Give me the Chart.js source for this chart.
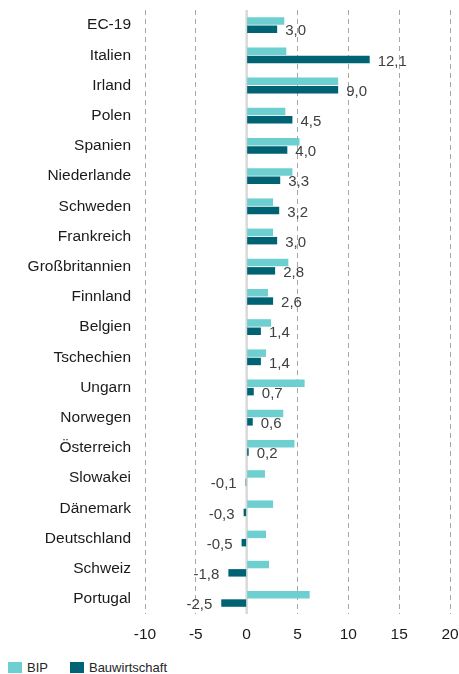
<!DOCTYPE html>
<html>
<head>
<meta charset="utf-8">
<script src="https://cdn.jsdelivr.net/npm/chart.js@4"></script>
<style>
  body { margin: 0; background: #fff; font-family: "Liberation Sans", Arial, sans-serif; }
  #wrap { position: relative; width: 459px; height: 674px; }
  #legend { position: absolute; left: 8px; top: 657px; height: 20px; display: flex; align-items: center; font-size: 13px; color: #262626; }
  #legend span.box { display: inline-block; width: 14px; height: 11px; margin-right: 5px; }
  #legend span.item { display: flex; align-items: center; margin-right: 22px; }
</style>
</head>
<body>
<div id="wrap">
  <canvas id="chart" width="459" height="650"></canvas>
  <div id="legend"></div>
</div>
<script>
const countries = [
  "EC-19", "Italien", "Irland", "Polen", "Spanien", "Niederlande", "Schweden",
  "Frankreich", "Großbritannien", "Finnland", "Belgien", "Tschechien", "Ungarn",
  "Norwegen", "Österreich", "Slowakei", "Dänemark", "Deutschland", "Schweiz", "Portugal"
];
const bip = [3.7, 3.9, 9.0, 3.8, 5.2, 4.5, 2.6, 2.6, 4.1, 2.1, 2.4, 1.9, 5.7, 3.6, 4.7, 1.8, 2.6, 1.9, 2.2, 6.2];
const bau = [3.0, 12.1, 9.0, 4.5, 4.0, 3.3, 3.2, 3.0, 2.8, 2.6, 1.4, 1.4, 0.7, 0.6, 0.2, -0.1, -0.3, -0.5, -1.8, -2.5];
const xTicks = [-10, -5, 0, 5, 10, 15, 20];

const FONT = '"Liberation Sans", Arial, sans-serif';
const COL_BIP = "#6dcfd0";
const COL_BAU = "#006374";

// values for Bauwirtschaft, german decimal comma
const barLabels = {
  id: "barLabels",
  afterDatasetsDraw(chart) {
    const { ctx } = chart;
    const meta = chart.getDatasetMeta(1);
    ctx.save();
    ctx.font = "15px " + FONT;
    ctx.fillStyle = "#404040";
    ctx.textBaseline = "middle";
    meta.data.forEach((bar, i) => {
      const v = bau[i];
      const txt = v.toFixed(1).replace(".", ",");
      if (v >= 0) {
        ctx.textAlign = "left";
        ctx.fillText(txt, bar.x + 8, bar.y + 2);
      } else {
        ctx.textAlign = "right";
        ctx.fillText(txt, bar.x - 9, bar.y + 2);
      }
    });
    ctx.restore();
  },
};

// solid light zero line
const zeroLine = {
  id: "zeroLine",
  beforeDatasetsDraw(chart) {
    const { ctx, chartArea, scales } = chart;
    const x = scales.x.getPixelForValue(0);
    ctx.save();
    ctx.strokeStyle = "#d9d9d9";
    ctx.lineWidth = 2.5;
    ctx.beginPath();
    ctx.moveTo(x, chartArea.top);
    ctx.lineTo(x, chartArea.bottom);
    ctx.stroke();
    ctx.restore();
  },
};

const chart = new Chart(document.getElementById("chart"), {
  type: "bar",
  data: {
    labels: countries,
    datasets: [
      { label: "BIP", data: bip, backgroundColor: COL_BIP, categoryPercentage: 0.55, barPercentage: 0.9 },
      { label: "Bauwirtschaft", data: bau, backgroundColor: COL_BAU, categoryPercentage: 0.55, barPercentage: 0.9 },
    ],
  },
  options: {
    indexAxis: "y",
    responsive: false,
    animation: false,
    layout: { padding: { top: 10, right: 9, bottom: 8, left: 0 } },
    plugins: {
      legend: { display: false },
      tooltip: { enabled: false },
    },
    scales: {
      x: {
        min: xTicks[0],
        max: xTicks[xTicks.length - 1],
        afterBuildTicks: (scale) => {
          scale.ticks = xTicks.map((v) => ({ value: v }));
        },
        grid: {
          color: (c) => (c.tick && c.tick.value === 0 ? "rgba(0,0,0,0)" : "#a6a6a6"),
          lineWidth: 1,
          drawTicks: false,
        },
        border: { display: false, dash: [5, 4] },
        ticks: {
          padding: 11,
          color: "#1a1a1a",
          font: { size: 15.5, family: FONT },
          callback: (v) => String(v),
        },
        afterFit: (scale) => {
          scale.height = 28;
          scale.paddingLeft = 0;
          scale.paddingRight = 0;
          scale.paddingTop = 0;
          scale.paddingBottom = 0;
        },
      },
      y: {
        grid: { display: false, drawTicks: false },
        border: { display: false },
        ticks: {
          padding: 14,
          color: "#1a1a1a",
          font: { size: 15.5, family: FONT },
        },
        afterFit: (scale) => {
          scale.width = 145;
          scale.paddingTop = 0;
          scale.paddingBottom = 0;
        },
      },
    },
  },
  plugins: [zeroLine, barLabels],
});

// legend below the canvas
const legend = document.getElementById("legend");
chart.data.datasets.forEach((ds) => {
  const item = document.createElement("span");
  item.className = "item";
  const box = document.createElement("span");
  box.className = "box";
  box.style.background = ds.backgroundColor;
  item.appendChild(box);
  item.appendChild(document.createTextNode(ds.label));
  legend.appendChild(item);
});
</script>
</body>
</html>
